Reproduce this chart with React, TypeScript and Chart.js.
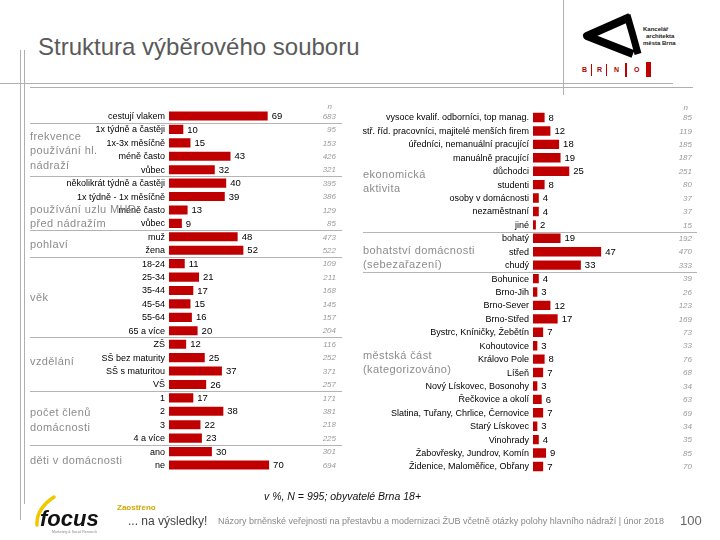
import React, { useEffect, useRef } from 'react';
import { Chart, registerables } from 'chart.js';

Chart.register(...registerables);

// ---------- DATA ----------
const leftLabels = [
  'cestují vlakem',
  '1x týdně a častěji', '1x-3x měsíčně', 'méně často', 'vůbec',
  'několikrát týdně a častěji', '1x týdně - 1x měsíčně', 'méně často', 'vůbec',
  'muž', 'žena',
  '18-24', '25-34', '35-44', '45-54', '55-64', '65 a více',
  'ZŠ', 'SŠ bez maturity', 'SŠ s maturitou', 'VŠ',
  '1', '2', '3', '4 a více',
  'ano', 'ne',
];
const leftValues = [69, 10, 15, 43, 32, 40, 39, 13, 9, 48, 52, 11, 21, 17, 15, 16, 20, 12, 25, 37, 26, 17, 38, 22, 23, 30, 70];
const leftN = [683, 95, 153, 426, 321, 395, 386, 129, 85, 473, 522, 109, 211, 168, 145, 157, 204, 116, 252, 371, 257, 171, 381, 218, 225, 301, 694];
const leftGroupNames = [
  ['frekvence', 'používání hl.', 'nádraží'],
  ['používání uzlu MHD', 'před nádražím'],
  ['pohlaví'],
  ['věk'],
  ['vzdělání'],
  ['počet členů', 'domácnosti'],
  ['děti v domácnosti'],
];
const leftGroupEnds = [0, 4, 8, 10, 16, 20, 24];

const rightLabels = [
  'vysoce kvalif. odborníci, top manag.', 'stř. říd. pracovníci, majitelé menších firem',
  'úředníci, nemanuální pracující', 'manuálně pracující', 'důchodci', 'studenti',
  'osoby v domácnosti', 'nezaměstnaní', 'jiné',
  'bohatý', 'střed', 'chudý',
  'Bohunice', 'Brno-Jih', 'Brno-Sever', 'Brno-Střed', 'Bystrc, Kníničky, Žebětín',
  'Kohoutovice', 'Královo Pole', 'Líšeň', 'Nový Lískovec, Bosonohy', 'Řečkovice a okolí',
  'Slatina, Tuřany, Chrlice, Černovice', 'Starý Lískovec', 'Vinohrady',
  'Žabovřesky, Jundrov, Komín', 'Židenice, Maloměřice, Obřany',
];
const rightValues = [8, 12, 18, 19, 25, 8, 4, 4, 2, 19, 47, 33, 4, 3, 12, 17, 7, 3, 8, 7, 3, 6, 7, 3, 4, 9, 7];
const rightN = [85, 119, 185, 187, 251, 80, 37, 37, 15, 192, 470, 333, 39, 26, 123, 169, 73, 33, 76, 68, 34, 63, 69, 34, 35, 85, 70];
const rightGroupNames = [
  ['ekonomická', 'aktivita'],
  ['bohatství domácnosti', '(sebezařazení)'],
  ['městská část', '(kategorizováno)'],
];
const rightGroupEnds = [8, 11];

// ---------- LAYOUT (row anchors for the group captions, in row units) ----------
const leftGroupRows = [1.56, 7.0, 9.6, 13.56, 18.33, 22.13, 25.7];
const rightGroupRows = [4.28, 9.92, 17.73];

const FONT = '"Liberation Sans", Arial, sans-serif';

type PanelCfg = {
  labels: string[];
  values: number[];
  n: number[];
  groups: string[][];
  groupRows: number[];
  sepAfter: number[];
  groupX: number;
  sepX0: number;
  sepX1: number;
  nX: number;
};

const annotPlugin = (cfg: PanelCfg) => ({
  id: 'annot',
  afterDatasetsDraw(chart: any) {
    const { ctx, scales } = chart;
    const x = scales.x;
    const y = scales.y;
    const rowH = y.getPixelForValue(1) - y.getPixelForValue(0);
    ctx.save();
    // separators
    ctx.strokeStyle = '#b4b4b4';
    ctx.lineWidth = 1;
    cfg.sepAfter.forEach((i) => {
      const yy = Math.round((y.getPixelForValue(i) + y.getPixelForValue(i + 1)) / 2) + 0.5;
      ctx.beginPath();
      ctx.moveTo(cfg.sepX0, yy);
      ctx.lineTo(cfg.sepX1, yy);
      ctx.stroke();
    });
    // category labels
    ctx.textBaseline = 'middle';
    ctx.textAlign = 'right';
    ctx.fillStyle = '#000';
    ctx.font = `9px ${FONT}`;
    cfg.labels.forEach((l, i) => ctx.fillText(l, x.left - 4, y.getPixelForValue(i) + 0.5));
    // value labels
    ctx.textAlign = 'left';
    ctx.font = `9.5px ${FONT}`;
    ctx.fillStyle = '#000';
    cfg.values.forEach((v, i) => ctx.fillText(String(v), x.getPixelForValue(v) + 4, y.getPixelForValue(i) + 0.5));
    // n column
    ctx.textAlign = 'right';
    ctx.font = `italic 8px ${FONT}`;
    ctx.fillStyle = '#9a9a9a';
    cfg.n.forEach((v, i) => ctx.fillText(String(v), cfg.nX, y.getPixelForValue(i) + 0.5));
    ctx.fillText('n', cfg.nX - 4, y.getPixelForValue(0) - rowH * 0.7);
    // group captions
    ctx.textAlign = 'left';
    ctx.font = `11px ${FONT}`;
    ctx.fillStyle = '#8c8c8c';
    (ctx as any).letterSpacing = '0.4px';
    cfg.groups.forEach((lines, gi) => {
      const y0 = y.getPixelForValue(0) + cfg.groupRows[gi] * rowH;
      lines.forEach((t, k) => ctx.fillText(t, cfg.groupX, y0 + k * 14.5));
    });
    ctx.restore();
  },
});

function Panel(props: {
  cfg: PanelCfg;
  left: number;
  width: number;
  padding: { left: number; right: number; top: number; bottom: number };
  barPct: number;
}) {
  const ref = useRef<HTMLCanvasElement>(null);
  useEffect(() => {
    const chart = new Chart(ref.current as HTMLCanvasElement, {
      type: 'bar',
      data: {
        labels: props.cfg.labels,
        datasets: [
          {
            data: props.cfg.values,
            backgroundColor: '#c00000',
            borderWidth: 0,
            categoryPercentage: 1,
            barPercentage: props.barPct,
          },
        ],
      },
      options: {
        indexAxis: 'y',
        responsive: false,
        animation: false,
        devicePixelRatio: 1,
        layout: { padding: props.padding },
        plugins: { legend: { display: false }, tooltip: { enabled: false } },
        scales: {
          x: { display: false, min: 0, max: 100 },
          y: { display: false },
        },
      },
      plugins: [annotPlugin(props.cfg)],
    } as any);
    return () => chart.destroy();
  }, []);
  return (
    <canvas
      ref={ref}
      width={props.width}
      height={540}
      style={{ position: 'absolute', left: props.left, top: 0, width: props.width, height: 540 }}
    />
  );
}

const line = (l: number, t: number, w: number, h: number, c = '#b0b0b0') => (
  <div style={{ position: 'absolute', left: l, top: t, width: w, height: h, background: c }} />
);

export default function App() {
  const leftCfg: PanelCfg = {
    labels: leftLabels,
    values: leftValues,
    n: leftN,
    groups: leftGroupNames,
    groupRows: leftGroupRows,
    sepAfter: leftGroupEnds,
    groupX: 30,
    sepX0: 30,
    sepX1: 342,
    nX: 336,
  };
  const rightCfg: PanelCfg = {
    labels: rightLabels,
    values: rightValues,
    n: rightN,
    groups: rightGroupNames,
    groupRows: rightGroupRows,
    sepAfter: rightGroupEnds,
    groupX: 13,
    sepX0: 13,
    sepX1: 347,
    nX: 342,
  };
  return (
    <div
      style={{
        position: 'fixed',
        left: 0,
        top: 0,
        width: 720,
        height: 540,
        background: '#fff',
        overflow: 'hidden',
        fontFamily: FONT,
      }}
    >
      {/* frame lines */}
      {line(20, 50, 1, 470)}
      {line(24, 50, 1, 454)}
      {line(0, 83, 673, 1)}
      {line(30, 87, 663, 1)}
      {line(563, 0, 1, 95)}
      {/* title */}
      <div style={{ position: 'absolute', left: 38, top: 35, fontSize: 24, lineHeight: '24px', color: '#5a5a5a', whiteSpace: 'nowrap' }}>
        Struktura výběrového souboru
      </div>
      {/* KAM logo */}
      <svg width={160} height={90} style={{ position: 'absolute', left: 560, top: 0 }}>
        <path d="M70 17 L27 36 L73 54" fill="none" stroke="#000" strokeWidth={8} strokeLinejoin="round" />
        <path d="M67 15 Q73 35 78 54" fill="none" stroke="#000" strokeWidth={7} />
        <text x={83} y={31} fontSize={6} fontWeight="bold" fill="#222" fontFamily={FONT}>Kancelář</text>
        <text x={86} y={38} fontSize={6} fontWeight="bold" fill="#222" fontFamily={FONT}>architekta</text>
        <text x={83} y={45} fontSize={6} fontWeight="bold" fill="#222" fontFamily={FONT}>města Brna</text>
        <text x={22} y={72} fontSize={7} fontWeight="bold" fill="#b00000" fontFamily={FONT}>B</text>
        <rect x={31} y={64} width={1} height={12} fill="#c00000" />
        <text x={37} y={72} fontSize={7} fontWeight="bold" fill="#b00000" fontFamily={FONT}>R</text>
        <rect x={46} y={64} width={1} height={12} fill="#c00000" />
        <text x={54} y={72} fontSize={7} fontWeight="bold" fill="#b00000" fontFamily={FONT}>N</text>
        <rect x={65} y={63} width={2} height={14} fill="#c00000" />
        <text x={74} y={72} fontSize={7} fontWeight="bold" fill="#b00000" fontFamily={FONT}>O</text>
        <rect x={86} y={62} width={5} height={15} fill="#c00000" />
      </svg>
      <Panel cfg={leftCfg} left={0} width={350} padding={{ left: 169, right: 38, top: 109.3, bottom: 68.3 }} barPct={0.68} />
      <Panel cfg={rightCfg} left={350} width={370} padding={{ left: 183, right: 42, top: 110.8, bottom: 66.8 }} barPct={0.7} />
      {/* note */}
      <div style={{ position: 'absolute', left: 264, top: 490, fontSize: 10.5, fontStyle: 'italic', color: '#111', whiteSpace: 'nowrap' }}>
        v %, N = 995; obyvatelé Brna 18+
      </div>
      {/* focus logo */}
      <svg width={110} height={45} style={{ position: 'absolute', left: 30, top: 495 }}>
        <path d="M24 2 Q6 14 7 30" fill="none" stroke="#f0c800" strokeWidth={3.5} strokeLinecap="round" />
        <text x={10} y={31} fontSize={22} fontWeight="bold" fontStyle="italic" fill="#111" fontFamily={FONT}>focus</text>
        <text x={22} y={38} fontSize={3.5} fill="#888" fontFamily={FONT}>Marketing &amp; Social Research</text>
      </svg>
      <div style={{ position: 'absolute', left: 117, top: 503, fontSize: 8, fontWeight: 'bold', color: '#cfa800', whiteSpace: 'nowrap' }}>
        Zaostřeno
      </div>
      <div style={{ position: 'absolute', left: 128, top: 514, fontSize: 12, color: '#444', whiteSpace: 'nowrap' }}>
        ... na výsledky!
      </div>
      <div style={{ position: 'absolute', left: 218, top: 516, fontSize: 9, color: '#888', whiteSpace: 'nowrap' }}>
        Názory brněnské veřejnosti na přestavbu a modernizaci ŽUB včetně otázky polohy hlavního nádraží | únor 2018
      </div>
      <div style={{ position: 'absolute', left: 680, top: 513, fontSize: 13, color: '#666', whiteSpace: 'nowrap' }}>
        100
      </div>
    </div>
  );
}
